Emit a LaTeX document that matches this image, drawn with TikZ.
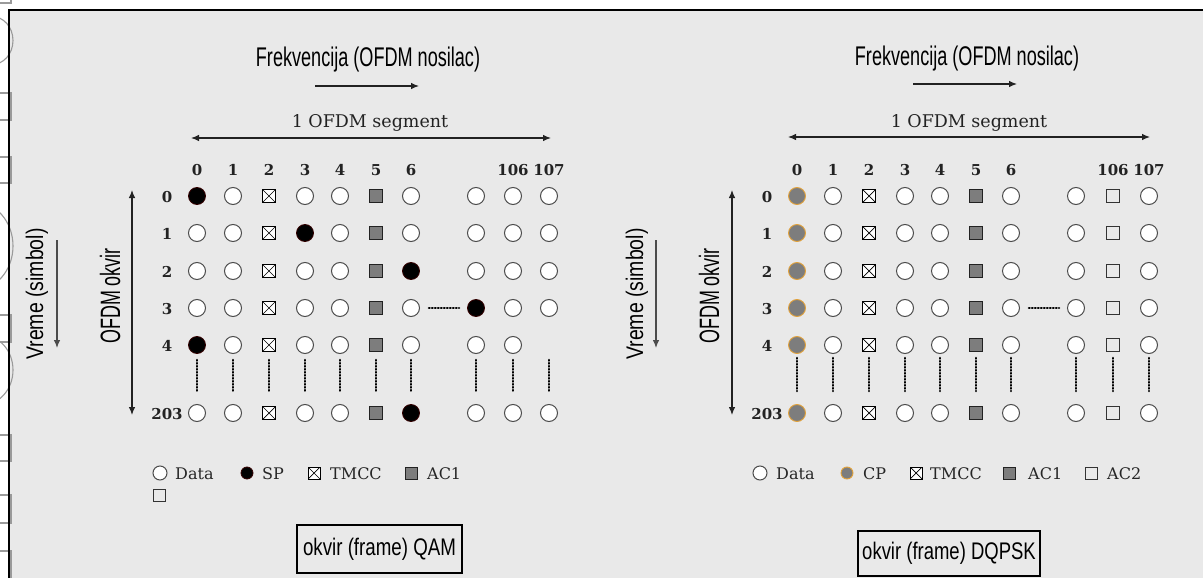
\documentclass[tikz,border=0pt]{standalone}
\usepackage{fontspec}
\usepackage{graphicx}
\setmainfont{DejaVu Serif}
\newfontfamily\sansf{Liberation Sans}
\usetikzlibrary{arrows.meta,calc}
\newcommand\cond[3]{\scalebox{#2}[1]{\fontsize{#1}{#1}\selectfont\sansf #3}}
\definecolor{bg}{HTML}{E9E9E9}
\definecolor{ink}{HTML}{222222}
\definecolor{acgray}{HTML}{7D7D7D}
\definecolor{cpedge}{HTML}{E3A23A}
\definecolor{artgray}{HTML}{9A9A9A}
\newcommand\gridrow[4]{%
  \foreach \ctype [count=\ci from 0] in {#4} {%
    \pgfmathsetmacro\xx{{197,233,269,305,340,376,411,476,513,549}[\ci]}%
    \node[\ctype] (#1-#2-\ci) at (\xx,#3) {};
  }}
\begin{document}
\begin{tikzpicture}[x=1pt,y=-1pt,
  cD/.style={circle, minimum size=17pt, inner sep=0pt, draw=black!70, line width=1pt, fill=white},
  cSP/.style={circle, minimum size=17pt, inner sep=0pt, draw=black!80!red, line width=0.8pt, fill=black},
  cCP/.style={circle, minimum size=17pt, inner sep=0pt, draw=cpedge, line width=0.9pt, fill=acgray},
  cT/.style={rectangle, minimum size=12.5pt, inner sep=0pt, draw=black, line width=0.9pt, fill=white,
    path picture={\draw[line width=0.7pt] (path picture bounding box.north west) -- (path picture bounding box.south east)
      (path picture bounding box.north east) -- (path picture bounding box.south west);}},
  cA/.style={rectangle, minimum size=12.5pt, inner sep=0pt, draw=ink, line width=0.9pt, fill=acgray},
  cB/.style={rectangle, minimum size=12.5pt, inner sep=0pt, draw=black!80, line width=0.9pt},
  cN/.style={shape=coordinate},
  numlbl/.style={font=\bfseries\fontsize{15}{15}\selectfont, text=ink, inner sep=0pt, anchor=base},
  leglbl/.style={font=\fontsize{16}{16}\selectfont, text=black!85, inner sep=0pt, anchor=base west},
  arr/.style={-{Latex[length=8pt,width=6.5pt]}, line width=1.1pt, draw=ink},
  darr/.style={{Latex[length=8pt,width=6.5pt]}-{Latex[length=8pt,width=6.5pt]}, line width=1.1pt, draw=ink},
  dotv/.style={line width=2.6pt, draw=black, line cap=round, dash pattern=on 0.6pt off 2.4pt},
  framebox/.style={draw=black, line width=1.3pt, inner sep=0pt},
  artf/.style={draw=artgray, line width=1.1pt},
  plain/.style={inner sep=0pt},
  segtxt/.style={inner sep=0pt, anchor=base, font=\fontsize{17.5}{17.5}\selectfont, text=ink}
]
\useasboundingbox (0,0) rectangle (1203,578);
\fill[white] (0,0) rectangle (1203,578);
\fill[bg] (9,10.5) rectangle (1203,578);
% cut-off shapes at the left edge
\begin{scope}
  \clip (0,0) rectangle (16,578);
  \draw[artf] (-12,3) -- (11,3) -- (11,-5);
  \foreach \a/\b in {93/120,157/183,315/342,435/461,495/523,551/590}
    \draw[artf] (-12,\a) -- (11,\a) -- (11,\b) -- (-12,\b);
  \draw[artf] (-8,40.5) ellipse [x radius=21, y radius=24];
  \draw[artf] (-25,246) ellipse [x radius=38, y radius=44];
  \draw[artf] (-18,370) ellipse [x radius=31, y radius=35];
\end{scope}
\draw[line width=2pt, line join=miter] (9,578) -- (9,10.5) -- (1203,10.5);

% ===== left panel (QAM) =====
\node[plain] (L-title) at (368,60) {\cond{27}{0.67}{Frekvencija (OFDM nosilac)}};
\coordinate (L-fa1) at (315,86); \coordinate (L-fa2) at (419,86);
\draw[arr] (L-fa1) -- (L-fa2);
\node[segtxt] (L-seg) at (370,128) {1 OFDM segment};
\coordinate (L-sa1) at (191,138); \coordinate (L-sa2) at (551,138);
\draw[darr] (L-sa1) -- (L-sa2);
\node[plain, rotate=90] (L-vreme) at (37,294) {\cond{24}{0.81}{Vreme (simbol)}};
\coordinate (L-va1) at (57,240); \coordinate (L-va2) at (57,348);
\draw[arr, draw=black!70] (L-va1) -- (L-va2);
\node[plain, rotate=90] (L-okvir) at (110,296) {\cond{28}{0.64}{OFDM okvir}};
\coordinate (L-oa1) at (132,190); \coordinate (L-oa2) at (132,415);
\draw[darr] (L-oa1) -- (L-oa2);

\foreach \ci/\lab in {0/0,1/1,2/2,3/3,4/4,5/5,6/6,8/106,9/107}{
  \pgfmathsetmacro\xx{{197,233,269,305,340,376,411,476,513,549}[\ci]}
  \node[numlbl] (L-cl-\ci) at (\xx,175) {\lab};
}
\foreach \ri/\ry/\lab in {0/196/0,1/233/1,2/271/2,3/308/3,4/345/4,5/413/203}
  \node[numlbl] (L-rl-\ri) at (167,\ry+6) {\lab};

\gridrow{L}{0}{196}{cSP,cD,cT,cD,cD,cA,cD,cD,cD,cD}
\gridrow{L}{1}{233}{cD,cD,cT,cSP,cD,cA,cD,cD,cD,cD}
\gridrow{L}{2}{271}{cD,cD,cT,cD,cD,cA,cSP,cD,cD,cD}
\gridrow{L}{3}{308}{cD,cD,cT,cD,cD,cA,cD,cSP,cD,cD}
\gridrow{L}{4}{345}{cSP,cD,cT,cD,cD,cA,cD,cD,cD,cN}
\gridrow{L}{5}{413}{cD,cD,cT,cD,cD,cA,cSP,cD,cD,cD}
\foreach \ci in {0,...,9}
  \draw[dotv] ($(L-4-\ci)+(0,15)$) -- ($(L-5-\ci)+(0,-21)$);
\draw[dotv] ($(L-3-6)+(18,0)$) -- ($(L-3-7)+(-17,0)$);

\node[cD, minimum size=14pt] (L-lg1) at (160,473) {};
\node[leglbl] (L-lt1) at (175,479) {Data};
\node[cSP, minimum size=12pt] (L-lg2) at (247,473) {};
\node[leglbl] (L-lt2) at (262,479) {SP};
\node[cT, minimum size=12pt] (L-lg3) at (314,473) {};
\node[leglbl] (L-lt3) at (330,479) {TMCC};
\node[cA, minimum size=12pt] (L-lg4) at (411,473) {};
\node[leglbl] (L-lt4) at (427,479) {AC1};
\node[cB, minimum size=12pt] (L-lg5) at (159,495) {};

\node[framebox, minimum width=165pt, minimum height=48pt] (L-box) at (379.5,549) {\cond{24}{0.78}{okvir (frame) QAM}};

% ===== right panel (DQPSK) =====
\begin{scope}[xshift=600pt]
\node[plain] (R-title) at (367,59) {\cond{27}{0.67}{Frekvencija (OFDM nosilac)}};
\coordinate (R-fa1) at (313,84); \coordinate (R-fa2) at (417,84);
\draw[arr] (R-fa1) -- (R-fa2);
\node[segtxt] (R-seg) at (369,127) {1 OFDM segment};
\coordinate (R-sa1) at (188,137); \coordinate (R-sa2) at (550,137);
\draw[darr] (R-sa1) -- (R-sa2);
\node[plain, rotate=90] (R-vreme) at (37,294) {\cond{24}{0.81}{Vreme (simbol)}};
\coordinate (R-va1) at (56,240); \coordinate (R-va2) at (56,348);
\draw[arr, draw=black!70] (R-va1) -- (R-va2);
\node[plain, rotate=90] (R-okvir) at (109,296) {\cond{28}{0.64}{OFDM okvir}};
\coordinate (R-oa1) at (132,190); \coordinate (R-oa2) at (132,415);
\draw[darr] (R-oa1) -- (R-oa2);

\foreach \ci/\lab in {0/0,1/1,2/2,3/3,4/4,5/5,6/6,8/106,9/107}{
  \pgfmathsetmacro\xx{{197,233,269,305,340,376,411,476,513,549}[\ci]}
  \node[numlbl] (R-cl-\ci) at (\xx,175) {\lab};
}
\foreach \ri/\ry/\lab in {0/196/0,1/233/1,2/271/2,3/308/3,4/345/4,5/413/203}
  \node[numlbl] (R-rl-\ri) at (167,\ry+6) {\lab};

\gridrow{R}{0}{196}{cCP,cD,cT,cD,cD,cA,cD,cD,cB,cD}
\gridrow{R}{1}{233}{cCP,cD,cT,cD,cD,cA,cD,cD,cB,cD}
\gridrow{R}{2}{271}{cCP,cD,cT,cD,cD,cA,cD,cD,cB,cD}
\gridrow{R}{3}{308}{cCP,cD,cT,cD,cD,cA,cD,cD,cB,cD}
\gridrow{R}{4}{345}{cCP,cD,cT,cD,cD,cA,cD,cD,cB,cD}
\gridrow{R}{5}{413}{cCP,cD,cT,cD,cD,cA,cD,cD,cB,cD}
\foreach \ci in {0,...,9}
  \draw[dotv] ($(R-4-\ci)+(0,13)$) -- ($(R-5-\ci)+(0,-22)$);
\draw[dotv] ($(R-3-6)+(18,0)$) -- ($(R-3-7)+(-17,0)$);

\node[cD, minimum size=14pt] (R-lg1) at (160,473) {};
\node[leglbl] (R-lt1) at (176,479) {Data};
\node[cCP, minimum size=12pt] (R-lg2) at (247,473) {};
\node[leglbl] (R-lt2) at (263,479) {CP};
\node[cT, minimum size=12pt] (R-lg3) at (316,473) {};
\node[leglbl] (R-lt3) at (330,479) {TMCC};
\node[cA, minimum size=12pt] (R-lg4) at (409,473) {};
\node[leglbl] (R-lt4) at (428,479) {AC1};
\node[cB, minimum size=12pt] (R-lg5) at (491,473) {};
\node[leglbl] (R-lt5) at (507,479) {AC2};

\node[framebox, minimum width=182pt, minimum height=45pt] (R-box) at (349,553.5) {\cond{24}{0.77}{okvir (frame) DQPSK}};
\end{scope}
\end{tikzpicture}
\end{document}
